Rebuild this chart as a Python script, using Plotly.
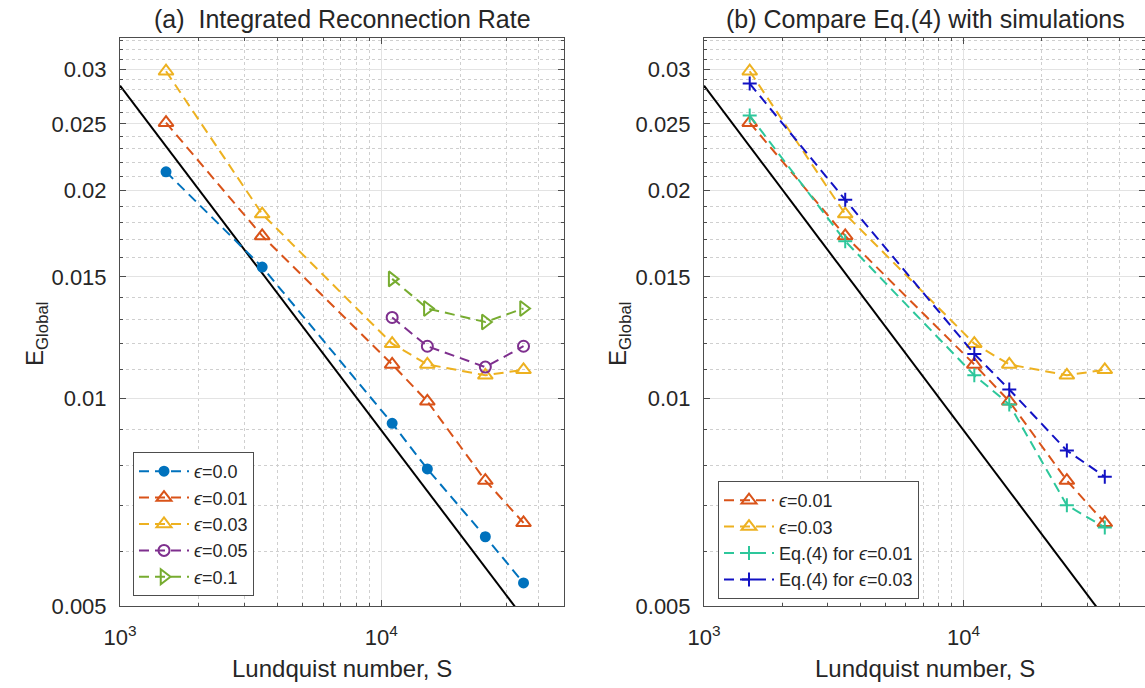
import plotly.graph_objects as go

# Lundquist numbers of the simulation runs
S = [1500, 3500, 11000, 15000, 25000, 35000]
S_hi = [11000, 15000, 25000, 35000]

# Integrated reconnection rate E_Global for each perturbation amplitude
E_eps000 = [0.0213, 0.0155, 0.0092, 0.0079, 0.0063, 0.0054]
E_eps001 = [0.0251, 0.0172, 0.0112, 0.0099, 0.0076, 0.0066]
E_eps003 = [0.0298, 0.0185, 0.0120, 0.0112, 0.0108, 0.0110]
E_eps005 = [0.0131, 0.0119, 0.0111, 0.0119]
E_eps010 = [0.0149, 0.0135, 0.0129, 0.0135]

# Eq.(4) predictions
E_eq4_001 = [0.0257, 0.0169, 0.0108, 0.0098, 0.0070, 0.0065]
E_eq4_003 = [0.0286, 0.0194, 0.0116, 0.0103, 0.0084, 0.0077]

# Sweet-Parker S^(-1/2) reference line (end points)
S_ref = [1000, 50000]
E_ref = [0.0284, 0.00402]

# axis ticks
x_major = [1000, 10000]
x_major_text = ["10<sup>3</sup>", "10<sup>4</sup>"]
x_minor = [2000, 3000, 4000, 5000, 6000, 7000, 8000, 9000, 20000, 30000, 40000]
y_major = [0.005, 0.01, 0.015, 0.02, 0.025, 0.03]
y_major_text = ["0.005", "0.01", "0.015", "0.02", "0.025", "0.03"]
y_minor = [v / 1000 for v in range(6, 34) if v not in (10, 15, 20, 25, 30)]

BLUE = "#0072BD"
ORANGE = "#D95319"
YELLOW = "#EDB120"
PURPLE = "#7E2F8E"
GREEN = "#77AC30"
TEAL = "#2DC79B"
NAVY = "#1212C4"
TXT = "#262626"
AXC = "#4d4d4d"
FONT = "Liberation Sans, Arial, sans-serif"
DASH = "10px,6px"

fig = go.Figure()


def series(x, y, name, color, symbol, size, xa, ya, legend):
    marker = dict(symbol=symbol, size=size, color=color,
                  line=dict(color=color, width=2))
    return go.Scatter(x=x, y=y, name=name, mode="lines+markers",
                      line=dict(color=color, width=2, dash=DASH),
                      marker=marker, xaxis=xa, yaxis=ya, legend=legend)


def ref_line(xa, ya):
    return go.Scatter(x=S_ref, y=E_ref, mode="lines", showlegend=False,
                      line=dict(color="black", width=2), xaxis=xa, yaxis=ya,
                      hoverinfo="skip")


# (a) integrated reconnection rate
fig.add_trace(ref_line("x", "y"))
fig.add_trace(series(S, E_eps000, "<i>ϵ</i>=0.0", BLUE, "circle", 9, "x", "y", "legend"))
fig.add_trace(series(S, E_eps001, "<i>ϵ</i>=0.01", ORANGE, "triangle-up-open", 13, "x", "y", "legend"))
fig.add_trace(series(S, E_eps003, "<i>ϵ</i>=0.03", YELLOW, "triangle-up-open", 13, "x", "y", "legend"))
fig.add_trace(series(S_hi, E_eps005, "<i>ϵ</i>=0.05", PURPLE, "circle-open", 11, "x", "y", "legend"))
fig.add_trace(series(S_hi, E_eps010, "<i>ϵ</i>=0.1", GREEN, "triangle-right-open", 13, "x", "y", "legend"))

# (b) Eq.(4) versus simulations
fig.add_trace(ref_line("x2", "y2"))
fig.add_trace(series(S, E_eps001, "<i>ϵ</i>=0.01", ORANGE, "triangle-up-open", 13, "x2", "y2", "legend2"))
fig.add_trace(series(S, E_eps003, "<i>ϵ</i>=0.03", YELLOW, "triangle-up-open", 13, "x2", "y2", "legend2"))
fig.add_trace(series(S, E_eq4_001, "Eq.(4) for <i>ϵ</i>=0.01", TEAL, "cross-thin", 10, "x2", "y2", "legend2"))
fig.add_trace(series(S, E_eq4_003, "Eq.(4) for <i>ϵ</i>=0.03", NAVY, "cross-thin", 10, "x2", "y2", "legend2"))

xdom_a = [120 / 1145, 564 / 1145]
xdom_b = [704 / 1145, 1.0]
ydom = [1 - 606 / 688, 1 - 38 / 688]

axis_common = dict(
    showline=True, linecolor=AXC, linewidth=1, mirror="ticks",
    ticks="inside", ticklen=6, tickcolor=AXC, automargin=False,
    showgrid=True, gridcolor="#e3e3e3", gridwidth=1,
    zeroline=False, tickfont=dict(family=FONT, size=22, color=TXT),
)


def xaxis(domain, anchor):
    return dict(axis_common, type="log", domain=domain, anchor=anchor,
                range=[3, 4.69897], tickmode="array", tickvals=x_major,
                ticktext=x_major_text, ticklabelstandoff=12,
                minor=dict(tickmode="array", tickvals=x_minor, ticks="inside",
                           ticklen=3, tickcolor=AXC, showgrid=True,
                           gridcolor="#cfcfcf", griddash="dot", gridwidth=1))


def yaxis(anchor):
    return dict(axis_common, type="log", domain=ydom, anchor=anchor,
                range=[-2.30103, -1.4776], tickmode="array", tickvals=y_major,
                ticktext=y_major_text, ticklabelstandoff=8,
                minor=dict(tickmode="array", tickvals=y_minor, ticks="inside",
                           ticklen=3, tickcolor=AXC, showgrid=True,
                           gridcolor="#cfcfcf", griddash="dot", gridwidth=1))


legend_common = dict(
    bgcolor="white", bordercolor=AXC, borderwidth=1,
    font=dict(family=FONT, size=18, color=TXT), itemwidth=50,
    xanchor="left", yanchor="top", tracegroupgap=0,
)

fig.update_layout(
    width=1145, height=688,
    margin=dict(l=0, r=0, t=0, b=0),
    paper_bgcolor="white", plot_bgcolor="white",
    font=dict(family=FONT, color=TXT),
    xaxis=xaxis(xdom_a, "y"),
    yaxis=yaxis("x"),
    xaxis2=xaxis(xdom_b, "y2"),
    yaxis2=yaxis("x2"),
    legend=dict(legend_common, x=133 / 1145, y=1 - 452 / 688),
    legend2=dict(legend_common, x=718 / 1145, y=1 - 481 / 688),
    showlegend=True,
)

titles = [
    ("(a)  Integrated Reconnection Rate", 342 / 1145),
    ("(b) Compare Eq.(4) with simulations", 925 / 1145),
]
for text, xc in titles:
    fig.add_annotation(text=text, x=xc, y=1 - 19 / 688, xref="paper", yref="paper",
                       xanchor="center", yanchor="middle", showarrow=False,
                       font=dict(family=FONT, size=25, color=TXT))
for xc in (342 / 1145, 925 / 1145):
    fig.add_annotation(text="Lundquist number, S", x=xc, y=1 - 668 / 688,
                       xref="paper", yref="paper", xanchor="center", yanchor="middle",
                       showarrow=False, font=dict(family=FONT, size=24, color=TXT))
for xc in (36 / 1145, 619 / 1145):
    fig.add_annotation(text="E<sub>Global</sub>", x=xc, y=1 - 334 / 688,
                       xref="paper", yref="paper", xanchor="center", yanchor="middle",
                       showarrow=False, textangle=-90,
                       font=dict(family=FONT, size=24, color=TXT))

fig.write_html("out.html")
